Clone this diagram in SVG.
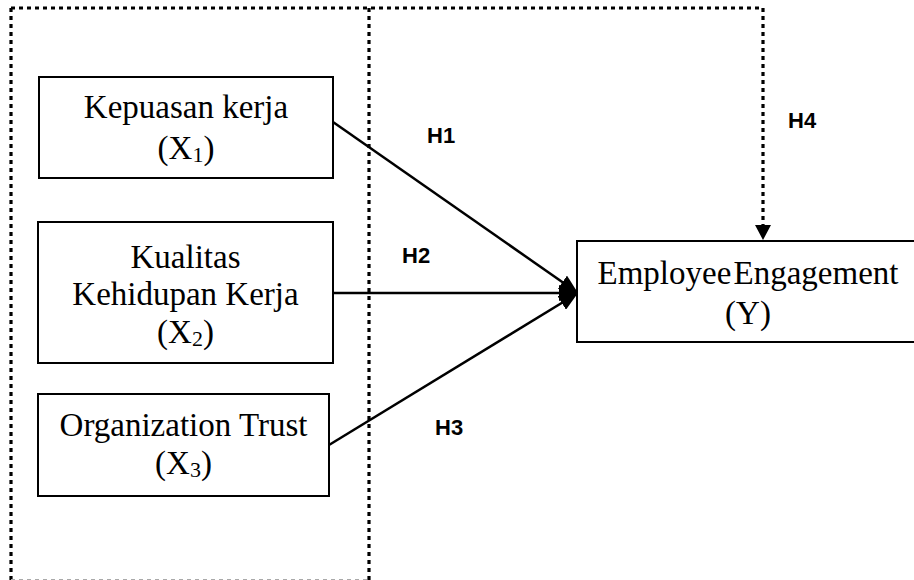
<svg xmlns="http://www.w3.org/2000/svg" width="914" height="580" viewBox="0 0 914 580">
  <style>
    .box { fill: #ffffff; stroke: #000000; stroke-width: 2; }
    .t { font-family: "Liberation Serif", "Times New Roman", serif; font-size: 33px; fill: #000000; text-anchor: middle; }
    .sub { font-size: 22px; }
    .h { font-family: "Liberation Sans", Arial, sans-serif; font-size: 22px; font-weight: bold; fill: #000000; }
    .dot { fill: none; stroke: #000000; stroke-width: 3.2; stroke-dasharray: 4 4; }
    .edge { fill: none; stroke: #000000; stroke-width: 2.5; }
  </style>
  <defs>
    <marker id="arrow" markerUnits="userSpaceOnUse" markerWidth="20" markerHeight="16" refX="19" refY="8" orient="auto">
      <path d="M0,0 L19,8 L0,16 z" fill="#000000"/>
    </marker>
  </defs>
  <rect width="914" height="580" fill="#ffffff"/>

  <g id="frame">
    <path class="dot" d="M11,8 L763,8"/>
    <path class="dot" d="M11,8 L11,580"/>
    <path class="dot" d="M369,8 L369,580"/>
    <path class="dot" d="M763,8 L763,226"/>
    <path d="M11,579.5 L369,579.5" fill="none" stroke="#aaaaaa" stroke-width="1" stroke-dasharray="4 4"/>
  </g>

  <g id="connectors">
    <path class="edge" d="M333,122 L578,293" marker-end="url(#arrow)"/>
    <path class="edge" d="M333,293 L578,293" marker-end="url(#arrow)"/>
    <path class="edge" d="M329,445 L578,293" marker-end="url(#arrow)"/>
    <path d="M755,225 L771,225 L763,240 z" fill="#000000"/>
    <text class="h" x="427" y="143">H1</text>
    <text class="h" x="402" y="263">H2</text>
    <text class="h" x="435" y="435">H3</text>
    <text class="h" x="788" y="128">H4</text>
  </g>

  <g id="x1">
    <rect class="box" x="39" y="77" width="294" height="101"/>
    <text class="t" x="186" y="118">Kepuasan kerja</text>
    <text class="t" x="186" y="159">(X<tspan class="sub" dy="3">1</tspan><tspan dy="-3">)</tspan></text>
  </g>

  <g id="x2">
    <rect class="box" x="38" y="222" width="295" height="141"/>
    <text class="t" x="185.5" y="268">Kualitas</text>
    <text class="t" x="185.5" y="305">Kehidupan Kerja</text>
    <text class="t" x="185.5" y="343">(X<tspan class="sub" dy="3">2</tspan><tspan dy="-3">)</tspan></text>
  </g>

  <g id="x3">
    <rect class="box" x="38" y="394" width="291" height="102"/>
    <text class="t" x="183.5" y="436">Organization Trust</text>
    <text class="t" x="183.5" y="474">(X<tspan class="sub" dy="3">3</tspan><tspan dy="-3">)</tspan></text>
  </g>

  <g id="y">
    <rect class="box" x="577" y="241" width="342" height="101"/>
    <text class="t" x="748" y="284" word-spacing="-6">Employee Engagement</text>
    <text class="t" x="748" y="324">(Y)</text>
  </g>
</svg>
